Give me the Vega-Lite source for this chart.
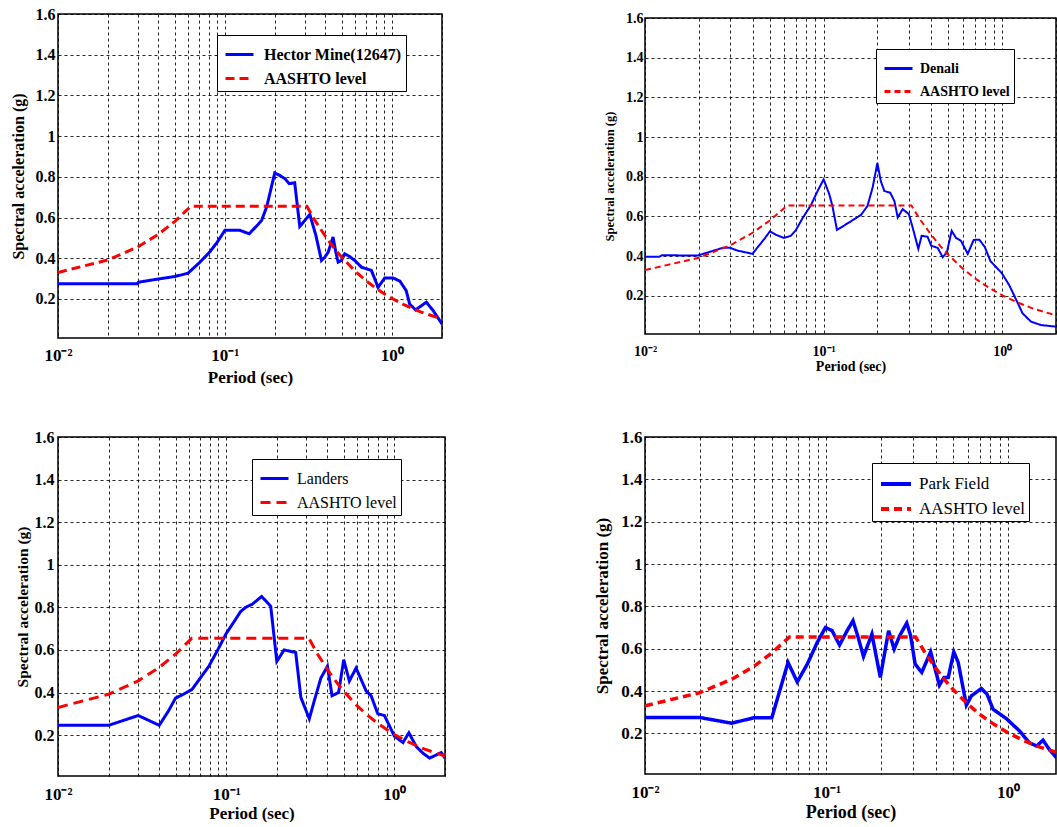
{
  "$schema": "https://vega.github.io/schema/vega-lite/v6.json",
  "background": "white",
  "padding": {"left": 9, "top": 5, "right": 0, "bottom": 0},
  "bounds": "flush",
  "columns": 2,
  "spacing": {"row": 99, "column": 200},
  "center": {"row": true, "column": false},
  "resolve": {"scale": {"color": "independent", "strokeDash": "independent"}},
  "datasets": {
    "hector": [
      {"T": 0.01, "Sa": 0.275, "series": "Hector Mine(12647)"},
      {"T": 0.03, "Sa": 0.275, "series": "Hector Mine(12647)"},
      {"T": 0.0303, "Sa": 0.282, "series": "Hector Mine(12647)"},
      {"T": 0.04, "Sa": 0.298, "series": "Hector Mine(12647)"},
      {"T": 0.05, "Sa": 0.31, "series": "Hector Mine(12647)"},
      {"T": 0.06, "Sa": 0.326, "series": "Hector Mine(12647)"},
      {"T": 0.0708, "Sa": 0.38, "series": "Hector Mine(12647)"},
      {"T": 0.081, "Sa": 0.43, "series": "Hector Mine(12647)"},
      {"T": 0.09, "Sa": 0.479, "series": "Hector Mine(12647)"},
      {"T": 0.1, "Sa": 0.537, "series": "Hector Mine(12647)"},
      {"T": 0.123, "Sa": 0.537, "series": "Hector Mine(12647)"},
      {"T": 0.14, "Sa": 0.52, "series": "Hector Mine(12647)"},
      {"T": 0.158, "Sa": 0.566, "series": "Hector Mine(12647)"},
      {"T": 0.166, "Sa": 0.586, "series": "Hector Mine(12647)"},
      {"T": 0.178, "Sa": 0.652, "series": "Hector Mine(12647)"},
      {"T": 0.199, "Sa": 0.819, "series": "Hector Mine(12647)"},
      {"T": 0.213, "Sa": 0.807, "series": "Hector Mine(12647)"},
      {"T": 0.229, "Sa": 0.791, "series": "Hector Mine(12647)"},
      {"T": 0.243, "Sa": 0.766, "series": "Hector Mine(12647)"},
      {"T": 0.262, "Sa": 0.771, "series": "Hector Mine(12647)"},
      {"T": 0.281, "Sa": 0.556, "series": "Hector Mine(12647)"},
      {"T": 0.323, "Sa": 0.615, "series": "Hector Mine(12647)"},
      {"T": 0.351, "Sa": 0.512, "series": "Hector Mine(12647)"},
      {"T": 0.379, "Sa": 0.389, "series": "Hector Mine(12647)"},
      {"T": 0.397, "Sa": 0.405, "series": "Hector Mine(12647)"},
      {"T": 0.416, "Sa": 0.43, "series": "Hector Mine(12647)"},
      {"T": 0.445, "Sa": 0.504, "series": "Hector Mine(12647)"},
      {"T": 0.462, "Sa": 0.43, "series": "Hector Mine(12647)"},
      {"T": 0.477, "Sa": 0.381, "series": "Hector Mine(12647)"},
      {"T": 0.5, "Sa": 0.389, "series": "Hector Mine(12647)"},
      {"T": 0.523, "Sa": 0.422, "series": "Hector Mine(12647)"},
      {"T": 0.56, "Sa": 0.408, "series": "Hector Mine(12647)"},
      {"T": 0.6, "Sa": 0.389, "series": "Hector Mine(12647)"},
      {"T": 0.658, "Sa": 0.356, "series": "Hector Mine(12647)"},
      {"T": 0.705, "Sa": 0.348, "series": "Hector Mine(12647)"},
      {"T": 0.755, "Sa": 0.34, "series": "Hector Mine(12647)"},
      {"T": 0.828, "Sa": 0.257, "series": "Hector Mine(12647)"},
      {"T": 0.908, "Sa": 0.303, "series": "Hector Mine(12647)"},
      {"T": 1.02, "Sa": 0.303, "series": "Hector Mine(12647)"},
      {"T": 1.12, "Sa": 0.287, "series": "Hector Mine(12647)"},
      {"T": 1.22, "Sa": 0.241, "series": "Hector Mine(12647)"},
      {"T": 1.28, "Sa": 0.175, "series": "Hector Mine(12647)"},
      {"T": 1.39, "Sa": 0.146, "series": "Hector Mine(12647)"},
      {"T": 1.61, "Sa": 0.184, "series": "Hector Mine(12647)"},
      {"T": 1.77, "Sa": 0.143, "series": "Hector Mine(12647)"},
      {"T": 2.0, "Sa": 0.077, "series": "Hector Mine(12647)"},
      {"T": 0.01, "Sa": 0.33, "series": "AASHTO level"},
      {"T": 0.02, "Sa": 0.392, "series": "AASHTO level"},
      {"T": 0.03, "Sa": 0.455, "series": "AASHTO level"},
      {"T": 0.04, "Sa": 0.518, "series": "AASHTO level"},
      {"T": 0.05, "Sa": 0.58, "series": "AASHTO level"},
      {"T": 0.0625, "Sa": 0.655, "series": "AASHTO level"},
      {"T": 0.31, "Sa": 0.655, "series": "AASHTO level"},
      {"T": 0.35, "Sa": 0.58, "series": "AASHTO level"},
      {"T": 0.4, "Sa": 0.508, "series": "AASHTO level"},
      {"T": 0.45, "Sa": 0.451, "series": "AASHTO level"},
      {"T": 0.5, "Sa": 0.406, "series": "AASHTO level"},
      {"T": 0.6, "Sa": 0.338, "series": "AASHTO level"},
      {"T": 0.7, "Sa": 0.29, "series": "AASHTO level"},
      {"T": 0.8, "Sa": 0.254, "series": "AASHTO level"},
      {"T": 0.9, "Sa": 0.226, "series": "AASHTO level"},
      {"T": 1.0, "Sa": 0.203, "series": "AASHTO level"},
      {"T": 1.2, "Sa": 0.169, "series": "AASHTO level"},
      {"T": 1.5, "Sa": 0.135, "series": "AASHTO level"},
      {"T": 2.0, "Sa": 0.102, "series": "AASHTO level"}
    ],
    "denali": [
      {"T": 0.01, "Sa": 0.397, "series": "Denali"},
      {"T": 0.012, "Sa": 0.397, "series": "Denali"},
      {"T": 0.0125, "Sa": 0.405, "series": "Denali"},
      {"T": 0.0197, "Sa": 0.403, "series": "Denali"},
      {"T": 0.0272, "Sa": 0.442, "series": "Denali"},
      {"T": 0.03, "Sa": 0.442, "series": "Denali"},
      {"T": 0.033, "Sa": 0.428, "series": "Denali"},
      {"T": 0.04, "Sa": 0.412, "series": "Denali"},
      {"T": 0.0427, "Sa": 0.445, "series": "Denali"},
      {"T": 0.0466, "Sa": 0.487, "series": "Denali"},
      {"T": 0.05, "Sa": 0.525, "series": "Denali"},
      {"T": 0.054, "Sa": 0.508, "series": "Denali"},
      {"T": 0.06, "Sa": 0.492, "series": "Denali"},
      {"T": 0.0656, "Sa": 0.503, "series": "Denali"},
      {"T": 0.07, "Sa": 0.532, "series": "Denali"},
      {"T": 0.0763, "Sa": 0.592, "series": "Denali"},
      {"T": 0.085, "Sa": 0.658, "series": "Denali"},
      {"T": 0.0925, "Sa": 0.728, "series": "Denali"},
      {"T": 0.1, "Sa": 0.787, "series": "Denali"},
      {"T": 0.1076, "Sa": 0.712, "series": "Denali"},
      {"T": 0.112, "Sa": 0.653, "series": "Denali"},
      {"T": 0.1188, "Sa": 0.532, "series": "Denali"},
      {"T": 0.136, "Sa": 0.565, "series": "Denali"},
      {"T": 0.162, "Sa": 0.608, "series": "Denali"},
      {"T": 0.176, "Sa": 0.653, "series": "Denali"},
      {"T": 0.188, "Sa": 0.745, "series": "Denali"},
      {"T": 0.2, "Sa": 0.87, "series": "Denali"},
      {"T": 0.209, "Sa": 0.778, "series": "Denali"},
      {"T": 0.219, "Sa": 0.728, "series": "Denali"},
      {"T": 0.236, "Sa": 0.72, "series": "Denali"},
      {"T": 0.249, "Sa": 0.678, "series": "Denali"},
      {"T": 0.26, "Sa": 0.595, "series": "Denali"},
      {"T": 0.277, "Sa": 0.637, "series": "Denali"},
      {"T": 0.3, "Sa": 0.612, "series": "Denali"},
      {"T": 0.315, "Sa": 0.545, "series": "Denali"},
      {"T": 0.339, "Sa": 0.437, "series": "Denali"},
      {"T": 0.354, "Sa": 0.503, "series": "Denali"},
      {"T": 0.382, "Sa": 0.498, "series": "Denali"},
      {"T": 0.4, "Sa": 0.453, "series": "Denali"},
      {"T": 0.435, "Sa": 0.442, "series": "Denali"},
      {"T": 0.464, "Sa": 0.395, "series": "Denali"},
      {"T": 0.49, "Sa": 0.42, "series": "Denali"},
      {"T": 0.521, "Sa": 0.528, "series": "Denali"},
      {"T": 0.551, "Sa": 0.492, "series": "Denali"},
      {"T": 0.587, "Sa": 0.478, "series": "Denali"},
      {"T": 0.641, "Sa": 0.412, "series": "Denali"},
      {"T": 0.692, "Sa": 0.482, "series": "Denali"},
      {"T": 0.745, "Sa": 0.483, "series": "Denali"},
      {"T": 0.8, "Sa": 0.445, "series": "Denali"},
      {"T": 0.859, "Sa": 0.375, "series": "Denali"},
      {"T": 0.994, "Sa": 0.315, "series": "Denali"},
      {"T": 1.096, "Sa": 0.253, "series": "Denali"},
      {"T": 1.195, "Sa": 0.182, "series": "Denali"},
      {"T": 1.3, "Sa": 0.112, "series": "Denali"},
      {"T": 1.45, "Sa": 0.07, "series": "Denali"},
      {"T": 1.65, "Sa": 0.053, "series": "Denali"},
      {"T": 2.0, "Sa": 0.045, "series": "Denali"},
      {"T": 0.01, "Sa": 0.33, "series": "AASHTO level"},
      {"T": 0.02, "Sa": 0.392, "series": "AASHTO level"},
      {"T": 0.03, "Sa": 0.455, "series": "AASHTO level"},
      {"T": 0.04, "Sa": 0.518, "series": "AASHTO level"},
      {"T": 0.05, "Sa": 0.58, "series": "AASHTO level"},
      {"T": 0.0625, "Sa": 0.655, "series": "AASHTO level"},
      {"T": 0.31, "Sa": 0.655, "series": "AASHTO level"},
      {"T": 0.35, "Sa": 0.58, "series": "AASHTO level"},
      {"T": 0.4, "Sa": 0.508, "series": "AASHTO level"},
      {"T": 0.45, "Sa": 0.451, "series": "AASHTO level"},
      {"T": 0.5, "Sa": 0.406, "series": "AASHTO level"},
      {"T": 0.6, "Sa": 0.338, "series": "AASHTO level"},
      {"T": 0.7, "Sa": 0.29, "series": "AASHTO level"},
      {"T": 0.8, "Sa": 0.254, "series": "AASHTO level"},
      {"T": 0.9, "Sa": 0.226, "series": "AASHTO level"},
      {"T": 1.0, "Sa": 0.203, "series": "AASHTO level"},
      {"T": 1.2, "Sa": 0.169, "series": "AASHTO level"},
      {"T": 1.5, "Sa": 0.135, "series": "AASHTO level"},
      {"T": 2.0, "Sa": 0.102, "series": "AASHTO level"}
    ],
    "landers": [
      {"T": 0.01, "Sa": 0.246, "series": "Landers"},
      {"T": 0.02, "Sa": 0.246, "series": "Landers"},
      {"T": 0.03, "Sa": 0.292, "series": "Landers"},
      {"T": 0.04, "Sa": 0.246, "series": "Landers"},
      {"T": 0.0455, "Sa": 0.315, "series": "Landers"},
      {"T": 0.05, "Sa": 0.374, "series": "Landers"},
      {"T": 0.0558, "Sa": 0.392, "series": "Landers"},
      {"T": 0.0627, "Sa": 0.415, "series": "Landers"},
      {"T": 0.0703, "Sa": 0.469, "series": "Landers"},
      {"T": 0.0788, "Sa": 0.523, "series": "Landers"},
      {"T": 0.0884, "Sa": 0.595, "series": "Landers"},
      {"T": 0.1, "Sa": 0.677, "series": "Landers"},
      {"T": 0.111, "Sa": 0.731, "series": "Landers"},
      {"T": 0.1218, "Sa": 0.78, "series": "Landers"},
      {"T": 0.1304, "Sa": 0.8, "series": "Landers"},
      {"T": 0.143, "Sa": 0.815, "series": "Landers"},
      {"T": 0.1626, "Sa": 0.851, "series": "Landers"},
      {"T": 0.184, "Sa": 0.805, "series": "Landers"},
      {"T": 0.2, "Sa": 0.546, "series": "Landers"},
      {"T": 0.221, "Sa": 0.6, "series": "Landers"},
      {"T": 0.259, "Sa": 0.588, "series": "Landers"},
      {"T": 0.278, "Sa": 0.377, "series": "Landers"},
      {"T": 0.312, "Sa": 0.277, "series": "Landers"},
      {"T": 0.334, "Sa": 0.361, "series": "Landers"},
      {"T": 0.366, "Sa": 0.469, "series": "Landers"},
      {"T": 0.4, "Sa": 0.523, "series": "Landers"},
      {"T": 0.426, "Sa": 0.385, "series": "Landers"},
      {"T": 0.466, "Sa": 0.4, "series": "Landers"},
      {"T": 0.5, "Sa": 0.554, "series": "Landers"},
      {"T": 0.54, "Sa": 0.454, "series": "Landers"},
      {"T": 0.592, "Sa": 0.515, "series": "Landers"},
      {"T": 0.679, "Sa": 0.408, "series": "Landers"},
      {"T": 0.727, "Sa": 0.385, "series": "Landers"},
      {"T": 0.797, "Sa": 0.3, "series": "Landers"},
      {"T": 0.873, "Sa": 0.292, "series": "Landers"},
      {"T": 1.0, "Sa": 0.195, "series": "Landers"},
      {"T": 1.125, "Sa": 0.165, "series": "Landers"},
      {"T": 1.22, "Sa": 0.211, "series": "Landers"},
      {"T": 1.35, "Sa": 0.146, "series": "Landers"},
      {"T": 1.48, "Sa": 0.115, "series": "Landers"},
      {"T": 1.62, "Sa": 0.092, "series": "Landers"},
      {"T": 1.9, "Sa": 0.118, "series": "Landers"},
      {"T": 2.0, "Sa": 0.092, "series": "Landers"},
      {"T": 0.01, "Sa": 0.33, "series": "AASHTO level"},
      {"T": 0.02, "Sa": 0.392, "series": "AASHTO level"},
      {"T": 0.03, "Sa": 0.455, "series": "AASHTO level"},
      {"T": 0.04, "Sa": 0.518, "series": "AASHTO level"},
      {"T": 0.05, "Sa": 0.58, "series": "AASHTO level"},
      {"T": 0.0625, "Sa": 0.655, "series": "AASHTO level"},
      {"T": 0.31, "Sa": 0.655, "series": "AASHTO level"},
      {"T": 0.35, "Sa": 0.58, "series": "AASHTO level"},
      {"T": 0.4, "Sa": 0.508, "series": "AASHTO level"},
      {"T": 0.45, "Sa": 0.451, "series": "AASHTO level"},
      {"T": 0.5, "Sa": 0.406, "series": "AASHTO level"},
      {"T": 0.6, "Sa": 0.338, "series": "AASHTO level"},
      {"T": 0.7, "Sa": 0.29, "series": "AASHTO level"},
      {"T": 0.8, "Sa": 0.254, "series": "AASHTO level"},
      {"T": 0.9, "Sa": 0.226, "series": "AASHTO level"},
      {"T": 1.0, "Sa": 0.203, "series": "AASHTO level"},
      {"T": 1.2, "Sa": 0.169, "series": "AASHTO level"},
      {"T": 1.5, "Sa": 0.135, "series": "AASHTO level"},
      {"T": 2.0, "Sa": 0.102, "series": "AASHTO level"}
    ],
    "park": [
      {"T": 0.01, "Sa": 0.275, "series": "Park Field"},
      {"T": 0.02, "Sa": 0.275, "series": "Park Field"},
      {"T": 0.03, "Sa": 0.248, "series": "Park Field"},
      {"T": 0.04, "Sa": 0.274, "series": "Park Field"},
      {"T": 0.05, "Sa": 0.274, "series": "Park Field"},
      {"T": 0.0614, "Sa": 0.535, "series": "Park Field"},
      {"T": 0.069, "Sa": 0.443, "series": "Park Field"},
      {"T": 0.0784, "Sa": 0.527, "series": "Park Field"},
      {"T": 0.089, "Sa": 0.63, "series": "Park Field"},
      {"T": 0.0987, "Sa": 0.7, "series": "Park Field"},
      {"T": 0.1074, "Sa": 0.685, "series": "Park Field"},
      {"T": 0.118, "Sa": 0.617, "series": "Park Field"},
      {"T": 0.13, "Sa": 0.685, "series": "Park Field"},
      {"T": 0.14, "Sa": 0.732, "series": "Park Field"},
      {"T": 0.1486, "Sa": 0.661, "series": "Park Field"},
      {"T": 0.16, "Sa": 0.563, "series": "Park Field"},
      {"T": 0.178, "Sa": 0.669, "series": "Park Field"},
      {"T": 0.198, "Sa": 0.464, "series": "Park Field"},
      {"T": 0.22, "Sa": 0.685, "series": "Park Field"},
      {"T": 0.236, "Sa": 0.598, "series": "Park Field"},
      {"T": 0.253, "Sa": 0.661, "series": "Park Field"},
      {"T": 0.277, "Sa": 0.721, "series": "Park Field"},
      {"T": 0.291, "Sa": 0.661, "series": "Park Field"},
      {"T": 0.308, "Sa": 0.527, "series": "Park Field"},
      {"T": 0.335, "Sa": 0.488, "series": "Park Field"},
      {"T": 0.375, "Sa": 0.585, "series": "Park Field"},
      {"T": 0.419, "Sa": 0.427, "series": "Park Field"},
      {"T": 0.444, "Sa": 0.464, "series": "Park Field"},
      {"T": 0.469, "Sa": 0.464, "series": "Park Field"},
      {"T": 0.503, "Sa": 0.585, "series": "Park Field"},
      {"T": 0.532, "Sa": 0.535, "series": "Park Field"},
      {"T": 0.59, "Sa": 0.333, "series": "Park Field"},
      {"T": 0.629, "Sa": 0.377, "series": "Park Field"},
      {"T": 0.714, "Sa": 0.412, "series": "Park Field"},
      {"T": 0.767, "Sa": 0.385, "series": "Park Field"},
      {"T": 0.828, "Sa": 0.314, "series": "Park Field"},
      {"T": 0.979, "Sa": 0.27, "series": "Park Field"},
      {"T": 1.16, "Sa": 0.211, "series": "Park Field"},
      {"T": 1.31, "Sa": 0.156, "series": "Park Field"},
      {"T": 1.44, "Sa": 0.14, "series": "Park Field"},
      {"T": 1.56, "Sa": 0.168, "series": "Park Field"},
      {"T": 1.69, "Sa": 0.124, "series": "Park Field"},
      {"T": 1.85, "Sa": 0.085, "series": "Park Field"},
      {"T": 2.0, "Sa": 0.07, "series": "Park Field"},
      {"T": 0.01, "Sa": 0.33, "series": "AASHTO level"},
      {"T": 0.02, "Sa": 0.392, "series": "AASHTO level"},
      {"T": 0.03, "Sa": 0.455, "series": "AASHTO level"},
      {"T": 0.04, "Sa": 0.518, "series": "AASHTO level"},
      {"T": 0.05, "Sa": 0.58, "series": "AASHTO level"},
      {"T": 0.0625, "Sa": 0.655, "series": "AASHTO level"},
      {"T": 0.31, "Sa": 0.655, "series": "AASHTO level"},
      {"T": 0.35, "Sa": 0.58, "series": "AASHTO level"},
      {"T": 0.4, "Sa": 0.508, "series": "AASHTO level"},
      {"T": 0.45, "Sa": 0.451, "series": "AASHTO level"},
      {"T": 0.5, "Sa": 0.406, "series": "AASHTO level"},
      {"T": 0.6, "Sa": 0.338, "series": "AASHTO level"},
      {"T": 0.7, "Sa": 0.29, "series": "AASHTO level"},
      {"T": 0.8, "Sa": 0.254, "series": "AASHTO level"},
      {"T": 0.9, "Sa": 0.226, "series": "AASHTO level"},
      {"T": 1.0, "Sa": 0.203, "series": "AASHTO level"},
      {"T": 1.2, "Sa": 0.169, "series": "AASHTO level"},
      {"T": 1.5, "Sa": 0.135, "series": "AASHTO level"},
      {"T": 2.0, "Sa": 0.102, "series": "AASHTO level"}
    ]
  },
  "concat": [
    {
      "width": 384, "height": 324,
      "data": {"name": "hector"},
      "mark": {"type": "line", "strokeWidth": 3, "clip": true},
      "encoding": {
        "x": {"field": "T", "type": "quantitative",
          "scale": {"type": "log", "domain": [0.01, 2], "nice": false},
          "axis": {"values": [0.01,0.02,0.03,0.04,0.05,0.06,0.07,0.08,0.09,0.1,0.2,0.3,0.4,0.5,0.6,0.7,0.8,0.9,1,2],
            "labelExpr": "datum.value == 0.01 ? '10⁻²' : datum.value == 0.1 ? '10⁻¹' : datum.value == 1 ? '10⁰' : ''",
            "labelFlush": false, "labelOverlap": false, "labelFontSize": 17, "labelPadding": 9,
            "title": "Period (sec)", "titleFontSize": 17, "titlePadding": 6}},
        "y": {"field": "Sa", "type": "quantitative",
          "scale": {"domain": [0.008, 1.6], "nice": false, "zero": false},
          "axis": {"values": [0.2,0.4,0.6,0.8,1,1.2,1.4,1.6], "format": "~g",
            "labelFontSize": 16, "labelPadding": 3,
            "title": "Spectral acceleration (g)", "titleFontSize": 16, "titlePadding": 9}},
        "color": {"field": "series", "type": "nominal",
          "scale": {"domain": ["Hector Mine(12647)", "AASHTO level"], "range": ["#0000ff", "#ff0000"]},
          "legend": {"title": null, "orient": "none", "legendX": 159, "legendY": 21, "labelFontSize": 16, "labelFontWeight": "bold", "symbolStrokeWidth": 3, "symbolSize": 784, "labelOffset": 9,
            "labelExpr": "datum.label + '\u00a0\u00a0\u00a0\u00a0\u00a0\u00a0'"}},
        "strokeDash": {"field": "series", "type": "nominal",
          "scale": {"domain": ["Hector Mine(12647)", "AASHTO level"], "range": [[1, 0], [9, 5]]},
          "legend": {"title": null, "orient": "none", "legendX": 159, "legendY": 21, "labelFontSize": 16, "labelFontWeight": "bold", "symbolStrokeWidth": 3, "symbolSize": 784, "labelOffset": 9,
            "labelExpr": "datum.label + '\u00a0\u00a0\u00a0\u00a0\u00a0\u00a0'"}}
      }
    },
    {
      "width": 411, "height": 316,
      "data": {"name": "denali"},
      "mark": {"type": "line", "strokeWidth": 2, "clip": true},
      "encoding": {
        "x": {"field": "T", "type": "quantitative",
          "scale": {"type": "log", "domain": [0.01, 2], "nice": false},
          "axis": {"values": [0.01,0.02,0.03,0.04,0.05,0.06,0.07,0.08,0.09,0.1,0.2,0.3,0.4,0.5,0.6,0.7,0.8,0.9,1,2],
            "labelExpr": "datum.value == 0.01 ? '10⁻²' : datum.value == 0.1 ? '10⁻¹' : datum.value == 1 ? '10⁰' : ''",
            "labelFlush": false, "labelOverlap": false, "labelFontSize": 14, "labelPadding": 10,
            "title": "Period (sec)", "titleFontSize": 14, "titlePadding": 1}},
        "y": {"field": "Sa", "type": "quantitative",
          "scale": {"domain": [0.008, 1.6], "nice": false, "zero": false},
          "axis": {"values": [0.2,0.4,0.6,0.8,1,1.2,1.4,1.6], "format": "~g",
            "labelFontSize": 14, "labelPadding": 2,
            "title": "Spectral acceleration (g)", "titleFontSize": 12.5, "titlePadding": 9}},
        "color": {"field": "series", "type": "nominal",
          "scale": {"domain": ["Denali", "AASHTO level"], "range": ["#0000ff", "#ff0000"]},
          "legend": {"title": null, "orient": "none", "legendX": 231, "legendY": 31, "labelFontSize": 14, "labelFontWeight": "bold", "symbolStrokeWidth": 3, "symbolSize": 784, "labelOffset": 6,
            "labelExpr": "datum.label + '\u00a0\u00a0\u00a0\u00a0\u00a0\u00a0\u00a0\u00a0'"}},
        "strokeDash": {"field": "series", "type": "nominal",
          "scale": {"domain": ["Denali", "AASHTO level"], "range": [[1, 0], [6, 4]]},
          "legend": {"title": null, "orient": "none", "legendX": 231, "legendY": 31, "labelFontSize": 14, "labelFontWeight": "bold", "symbolStrokeWidth": 3, "symbolSize": 784, "labelOffset": 6,
            "labelExpr": "datum.label + '\u00a0\u00a0\u00a0\u00a0\u00a0\u00a0\u00a0\u00a0'"}}
      }
    },
    {
      "width": 387, "height": 339,
      "data": {"name": "landers"},
      "mark": {"type": "line", "strokeWidth": 3, "clip": true},
      "encoding": {
        "x": {"field": "T", "type": "quantitative",
          "scale": {"type": "log", "domain": [0.01, 2], "nice": false},
          "axis": {"values": [0.01,0.02,0.03,0.04,0.05,0.06,0.07,0.08,0.09,0.1,0.2,0.3,0.4,0.5,0.6,0.7,0.8,0.9,1,2],
            "labelExpr": "datum.value == 0.01 ? '10⁻²' : datum.value == 0.1 ? '10⁻¹' : datum.value == 1 ? '10⁰' : ''",
            "labelFlush": false, "labelOverlap": false, "labelFontSize": 17, "labelPadding": 10,
            "title": "Period (sec)", "titleFontSize": 17, "titlePadding": 3}},
        "y": {"field": "Sa", "type": "quantitative",
          "scale": {"domain": [0.008, 1.6], "nice": false, "zero": false},
          "axis": {"values": [0.2,0.4,0.6,0.8,1,1.2,1.4,1.6], "format": "~g",
            "labelFontSize": 16, "labelPadding": 4,
            "title": "Spectral acceleration (g)", "titleFontSize": 15.5, "titlePadding": 4}},
        "color": {"field": "series", "type": "nominal",
          "scale": {"domain": ["Landers", "AASHTO level"], "range": ["#0000ff", "#ff0000"]},
          "legend": {"title": null, "orient": "none", "legendX": 194, "legendY": 22, "labelFontSize": 16, "labelFontWeight": "normal", "symbolStrokeWidth": 3, "symbolSize": 784, "labelOffset": 7,
            "labelExpr": "datum.label + '\u00a0\u00a0'"}},
        "strokeDash": {"field": "series", "type": "nominal",
          "scale": {"domain": ["Landers", "AASHTO level"], "range": [[1, 0], [10, 6]]},
          "legend": {"title": null, "orient": "none", "legendX": 194, "legendY": 22, "labelFontSize": 16, "labelFontWeight": "normal", "symbolStrokeWidth": 3, "symbolSize": 784, "labelOffset": 7,
            "labelExpr": "datum.label + '\u00a0\u00a0'"}}
      }
    },
    {
      "width": 411, "height": 337,
      "data": {"name": "park"},
      "mark": {"type": "line", "strokeWidth": 3.5, "clip": true},
      "encoding": {
        "x": {"field": "T", "type": "quantitative",
          "scale": {"type": "log", "domain": [0.01, 1.84], "nice": false},
          "axis": {"values": [0.01,0.02,0.03,0.04,0.05,0.06,0.07,0.08,0.09,0.1,0.2,0.3,0.4,0.5,0.6,0.7,0.8,0.9,1],
            "labelExpr": "datum.value == 0.01 ? '10⁻²' : datum.value == 0.1 ? '10⁻¹' : datum.value == 1 ? '10⁰' : ''",
            "labelFlush": false, "labelOverlap": false, "labelFontSize": 17, "labelPadding": 10,
            "title": "Period (sec)", "titleFontSize": 18, "titlePadding": 3}},
        "y": {"field": "Sa", "type": "quantitative",
          "scale": {"domain": [0.008, 1.6], "nice": false, "zero": false},
          "axis": {"values": [0.2,0.4,0.6,0.8,1,1.2,1.4,1.6], "format": "~g",
            "labelFontSize": 17, "labelPadding": 3,
            "title": "Spectral acceleration (g)", "titleFontSize": 17, "titlePadding": 9}},
        "color": {"field": "series", "type": "nominal",
          "scale": {"domain": ["Park Field", "AASHTO level"], "range": ["#0000ff", "#ff0000"]},
          "legend": {"title": null, "orient": "none", "legendX": 227, "legendY": 26, "labelFontSize": 17, "labelFontWeight": "normal", "symbolStrokeWidth": 4, "symbolSize": 900, "labelOffset": 6,
            "labelExpr": "datum.label + '\u00a0\u00a0\u00a0\u00a0'"}},
        "strokeDash": {"field": "series", "type": "nominal",
          "scale": {"domain": ["Park Field", "AASHTO level"], "range": [[1, 0], [8, 5]]},
          "legend": {"title": null, "orient": "none", "legendX": 227, "legendY": 26, "labelFontSize": 17, "labelFontWeight": "normal", "symbolStrokeWidth": 4, "symbolSize": 900, "labelOffset": 6,
            "labelExpr": "datum.label + '\u00a0\u00a0\u00a0\u00a0'"}}
      }
    }
  ],
  "config": {
    "font": "Liberation Serif",
    "view": {"stroke": "black", "strokeWidth": 1.5},
    "axis": {
      "labelFont": "Liberation Serif", "labelFontWeight": "bold", "labelColor": "black",
      "titleFont": "Liberation Serif", "titleFontWeight": "bold", "titleColor": "black",
      "ticks": false, "domain": false, "grid": true,
      "gridColor": "black", "gridDash": [3, 3], "gridOpacity": 0.85, "gridWidth": 1
    },
    "legend": {
      "fillColor": "white", "strokeColor": "black", "padding": 4, "symbolType": "stroke",
      "labelFont": "Liberation Serif", "labelColor": "black", "symbolOffset": 3, "rowPadding": 0, "cornerRadius": 0,
      "labelLimit": 300
    }
  }
}
